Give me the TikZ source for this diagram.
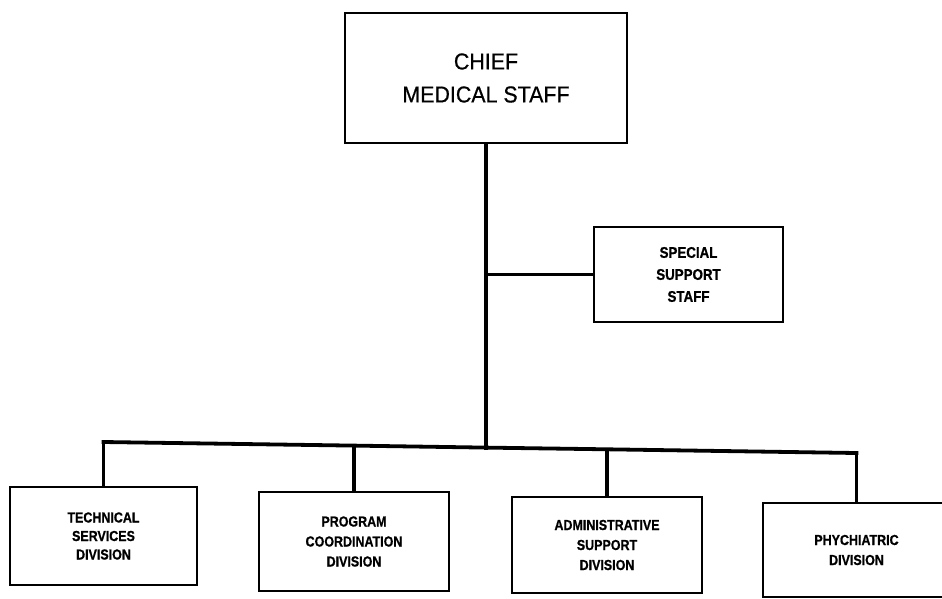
\documentclass[tikz,border=0pt]{standalone}
\usepackage{fontspec}
\setmainfont{Liberation Sans}
\newfontfamily\chieffont[FakeStretch=0.93,FakeBold=0.6]{Liberation Sans}
\newfontfamily\boxfont[FakeStretch=0.86,FakeBold=0.8]{Liberation Sans Bold}
\begin{document}
\begin{tikzpicture}[x=1pt,y=-1pt,
  box/.style={draw=black, line width=2.5pt, fill=white, align=center, inner sep=0pt},
  smallbox/.style={box, font=\boxfont\fontsize{14.5}{20}\selectfont},
  link/.style={line width=3.8pt, line cap=rect}]
\useasboundingbox[fill=white] (0,0) rectangle (942,598);
\node[box, minimum width=282pt, minimum height=130pt,
  font=\chieffont\fontsize{23}{33}\selectfont] (chief) at (486,78) {CHIEF\\MEDICAL STAFF};
\node[smallbox, minimum width=189pt, minimum height=95pt,
  font=\boxfont\fontsize{15.5}{22}\selectfont] (special) at (688.5,274.5) {SPECIAL\\SUPPORT\\STAFF};
\node[smallbox, minimum width=187pt, minimum height=98pt,
  font=\boxfont\fontsize{14.5}{18.5}\selectfont] (tech) at (103.5,536) {TECHNICAL\\SERVICES\\DIVISION};
\node[smallbox, minimum width=190pt, minimum height=99pt] (prog) at (354,541.5) {PROGRAM\\COORDINATION\\DIVISION};
\node[smallbox, minimum width=190pt, minimum height=96pt] (admin) at (607,545) {ADMINISTRATIVE\\SUPPORT\\DIVISION};
\node[smallbox, minimum width=187pt, minimum height=94pt] (phych) at (856.5,550) {PHYCHIATRIC\\DIVISION};
\coordinate (b1) at (103.5,442);
\coordinate (b2) at (354,445.6);
\coordinate (bm) at (486,447.6);
\coordinate (b3) at (607,449.3);
\coordinate (b4) at (856.5,453);
\coordinate (bs) at (486,274.5);
\draw[link] (chief.south) -- (bm);
\draw[link, line cap=butt] (bs) -- (special.west);
\draw[link] (b1) -- (b2) -- (bm) -- (b3) -- (b4);
\draw[link, line cap=butt] (b1) -- (tech.north);
\draw[link, line cap=butt] (b2) -- (prog.north);
\draw[link, line cap=butt] (b3) -- (admin.north);
\draw[link, line cap=butt] (b4) -- (phych.north);
\end{tikzpicture}
\end{document}
